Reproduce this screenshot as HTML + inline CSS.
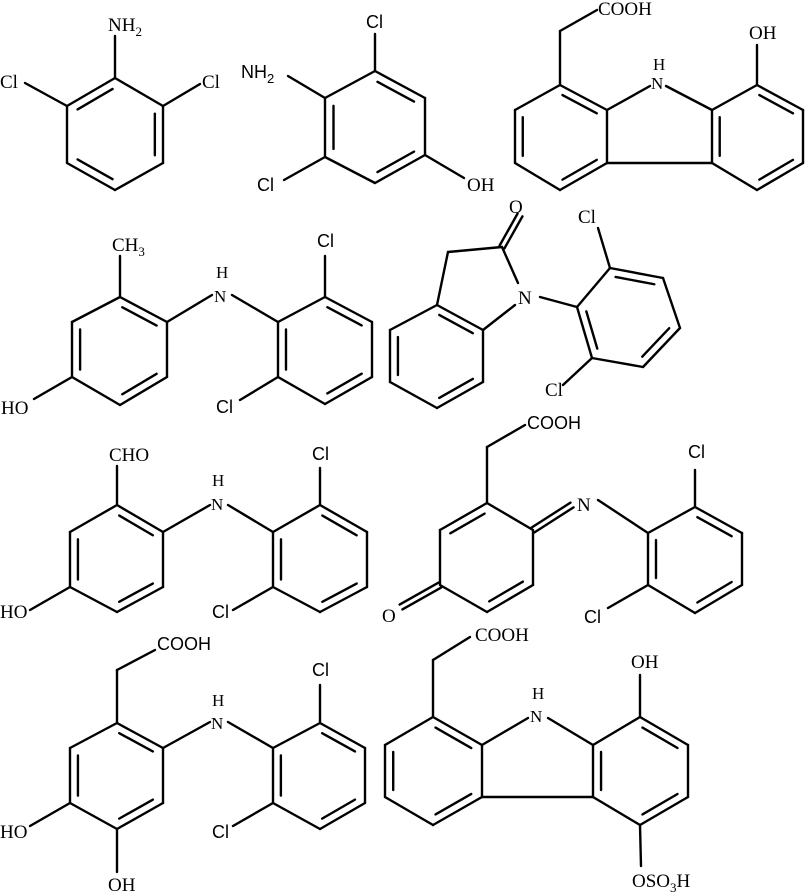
<!DOCTYPE html>
<html><head><meta charset="utf-8"><style>
html,body{margin:0;padding:0;background:#fff;}
svg{display:block}
text{font-family:"Liberation Serif",serif;font-size:19px;fill:#000}
.s{font-family:"Liberation Sans",sans-serif;font-size:18px}
.n{font-size:17px}
.sub{font-size:13px}
</style></head><body>
<svg id="g" width="805" height="892" viewBox="0 0 805 892" xmlns="http://www.w3.org/2000/svg">
<g id="b" stroke="#000" stroke-width="2.4" fill="none" stroke-linecap="round" stroke-linejoin="round"></g>
<!-- M1 -->
<text x="108" y="31">NH<tspan class="sub" dy="5">2</tspan></text>
<text x="0" y="88">Cl</text>
<text x="202" y="88">Cl</text>
<!-- M2 -->
<text class="s" x="366" y="28">Cl</text>
<text class="s" x="241" y="78">NH<tspan class="sub" dy="5">2</tspan></text>
<text class="s" x="257" y="191">Cl</text>
<text x="467" y="191">OH</text>
<!-- M3 -->
<text x="598" y="15">COOH</text>
<text class="n" x="653" y="70">H</text>
<text class="n" x="651" y="89">N</text>
<text x="749" y="39">OH</text>
<!-- M4 -->
<text x="112" y="251">CH<tspan class="sub" dy="5">3</tspan></text>
<text class="n" x="216" y="278">H</text>
<text class="n" x="214" y="302">N</text>
<text class="s" x="317" y="247">Cl</text>
<text class="s" x="216" y="413">Cl</text>
<text x="1" y="414">HO</text>
<!-- M5 -->
<text x="509" y="213">O</text>
<text x="518" y="304">N</text>
<text x="578" y="223">Cl</text>
<text x="545" y="396">Cl</text>
<!-- M6 -->
<text x="109" y="461">CHO</text>
<text class="n" x="212" y="486">H</text>
<text class="n" x="211" y="510">N</text>
<text class="s" x="312" y="460">Cl</text>
<text class="s" x="212" y="618">Cl</text>
<text x="0" y="618">HO</text>
<!-- M7 -->
<text class="s" x="527" y="429">COOH</text>
<text x="577" y="511">N</text>
<text class="s" x="688" y="458">Cl</text>
<text class="s" x="584" y="623">Cl</text>
<text x="382" y="622">O</text>
<!-- M8 -->
<text class="s" x="157" y="650">COOH</text>
<text class="n" x="212" y="706">H</text>
<text class="n" x="211" y="729">N</text>
<text class="s" x="312" y="676">Cl</text>
<text class="s" x="212" y="838">Cl</text>
<text x="0" y="838">HO</text>
<text x="108" y="891">OH</text>
<!-- M9 -->
<text x="475" y="641">COOH</text>
<text class="n" x="532" y="699">H</text>
<text class="n" x="530" y="722">N</text>
<text x="631" y="668">OH</text>
<text x="632" y="887">OSO<tspan class="sub" dy="5">3</tspan><tspan dy="-5">H</tspan></text>
</svg>
<script>
var G=document.getElementById('b'),NS='http://www.w3.org/2000/svg';
function L(a,b,c,d){var l=document.createElementNS(NS,'line');l.setAttribute('x1',a);l.setAttribute('y1',b);l.setAttribute('x2',c);l.setAttribute('y2',d);G.appendChild(l);}
function P(pts){for(var i=0;i<pts.length-1;i++)L(pts[i][0],pts[i][1],pts[i+1][0],pts[i+1][1]);}
function R(p,d){var cx=0,cy=0;p.forEach(function(q){cx+=q[0];cy+=q[1]});cx/=p.length;cy/=p.length;
 for(var i=0;i<p.length;i++){var a=p[i],b=p[(i+1)%p.length];L(a[0],a[1],b[0],b[1]);}
 d.forEach(function(i){var a=p[i],b=p[(i+1)%p.length];
  var a2=[a[0]+(cx-a[0])*0.17,a[1]+(cy-a[1])*0.17],b2=[b[0]+(cx-b[0])*0.17,b[1]+(cy-b[1])*0.17];
  var dx=b2[0]-a2[0],dy=b2[1]-a2[1];
  L(a2[0]+dx*0.06,a2[1]+dy*0.06,b2[0]-dx*0.06,b2[1]-dy*0.06);});}
function D(a,b,c,d){var dx=c-a,dy=d-b,l=Math.hypot(dx,dy),ox=-dy/l*2.8,oy=dx/l*2.8;L(a+ox,b+oy,c+ox,d+oy);L(a-ox,b-oy,c-ox,d-oy);}
// M1
R([[115,78],[163,106],[163,163],[115,190],[67,163],[67,106]],[5,1,3]);
L(115,78,115,36);L(67,106,25,83);L(163,106,200,84);
// M2
R([[375,71],[425,98],[425,155],[375,183],[325,157],[325,98]],[4,0,2]);
L(375,71,375,34);L(425,155,464,178);L(325,98,288,76);L(325,157,284,180);
// M3
R([[560,85],[607,110],[607,163],[560,190],[515,163],[515,110]],[0,2,4]);
R([[757,85],[803,110],[803,163],[757,190],[712,163],[712,110]],[0,2,4]);
L(607,110,650,86);L(666,86,712,110);L(607,163,712,163);
P([[560,85],[560,31],[597,10]]);L(757,85,757,45);
// M4
R([[120,297],[167,322],[167,377],[120,405],[72,377],[72,322]],[0,2,4]);
R([[325,297],[372,322],[372,377],[325,404],[278,377],[278,322]],[0,2,4]);
L(120,297,120,256);L(167,322,212,295);L(232,295,278,322);L(325,297,325,256);L(278,377,240,400);L(72,377,34,399);
// M5
R([[437,305],[483,330],[483,382],[437,408],[390,382],[390,330]],[0,2,4]);
P([[437,305],[448,252],[502,247],[518,283]]);L(515,305,483,330);
D(502,247,520,215);
R([[577,307],[610,268],[663,278],[680,328],[643,367],[592,358]],[5,1,3]);
L(540,297,577,307);L(610,268,598,228);L(592,358,563,385);
// M6
R([[117,505],[163,532],[163,587],[117,612],[70,587],[70,532]],[0,2,4]);
R([[320,505],[367,532],[367,587],[320,612],[273,587],[273,532]],[0,2,4]);
L(117,505,117,466);L(163,532,210,505);L(228,505,273,532);L(320,505,320,468);L(273,587,233,610);L(70,587,30,610);
// M7
R([[487,503],[533,530],[533,585],[487,612],[440,585],[440,530]],[5,2]);
R([[695,507],[742,533],[742,585],[695,613],[648,585],[648,533]],[0,2,4]);
P([[487,503],[487,447],[525,425]]);D(533,530,572,505);L(598,500,648,533);
L(695,507,695,470);L(648,585,608,608);D(440,585,401,607);
// M8
R([[117,723],[163,748],[163,803],[117,829],[70,803],[70,748]],[0,2,4]);
R([[320,723],[365,748],[365,803],[320,829],[273,803],[273,748]],[0,2,4]);
P([[117,723],[117,670],[155,650]]);L(163,748,210,722);L(228,722,273,748);
L(320,723,320,685);L(273,803,233,826);L(70,803,30,826);L(117,829,117,872);
// M9
R([[433,717],[482,745],[482,797],[433,825],[385,797],[385,745]],[0,2,4]);
R([[640,717],[688,745],[688,797],[640,825],[593,797],[593,745]],[0,2,4]);
L(482,745,528,718);L(548,718,593,745);L(482,797,593,797);
P([[433,717],[433,660],[470,637]]);L(640,717,640,675);L(640,825,641,866);
</script>
</body></html>
